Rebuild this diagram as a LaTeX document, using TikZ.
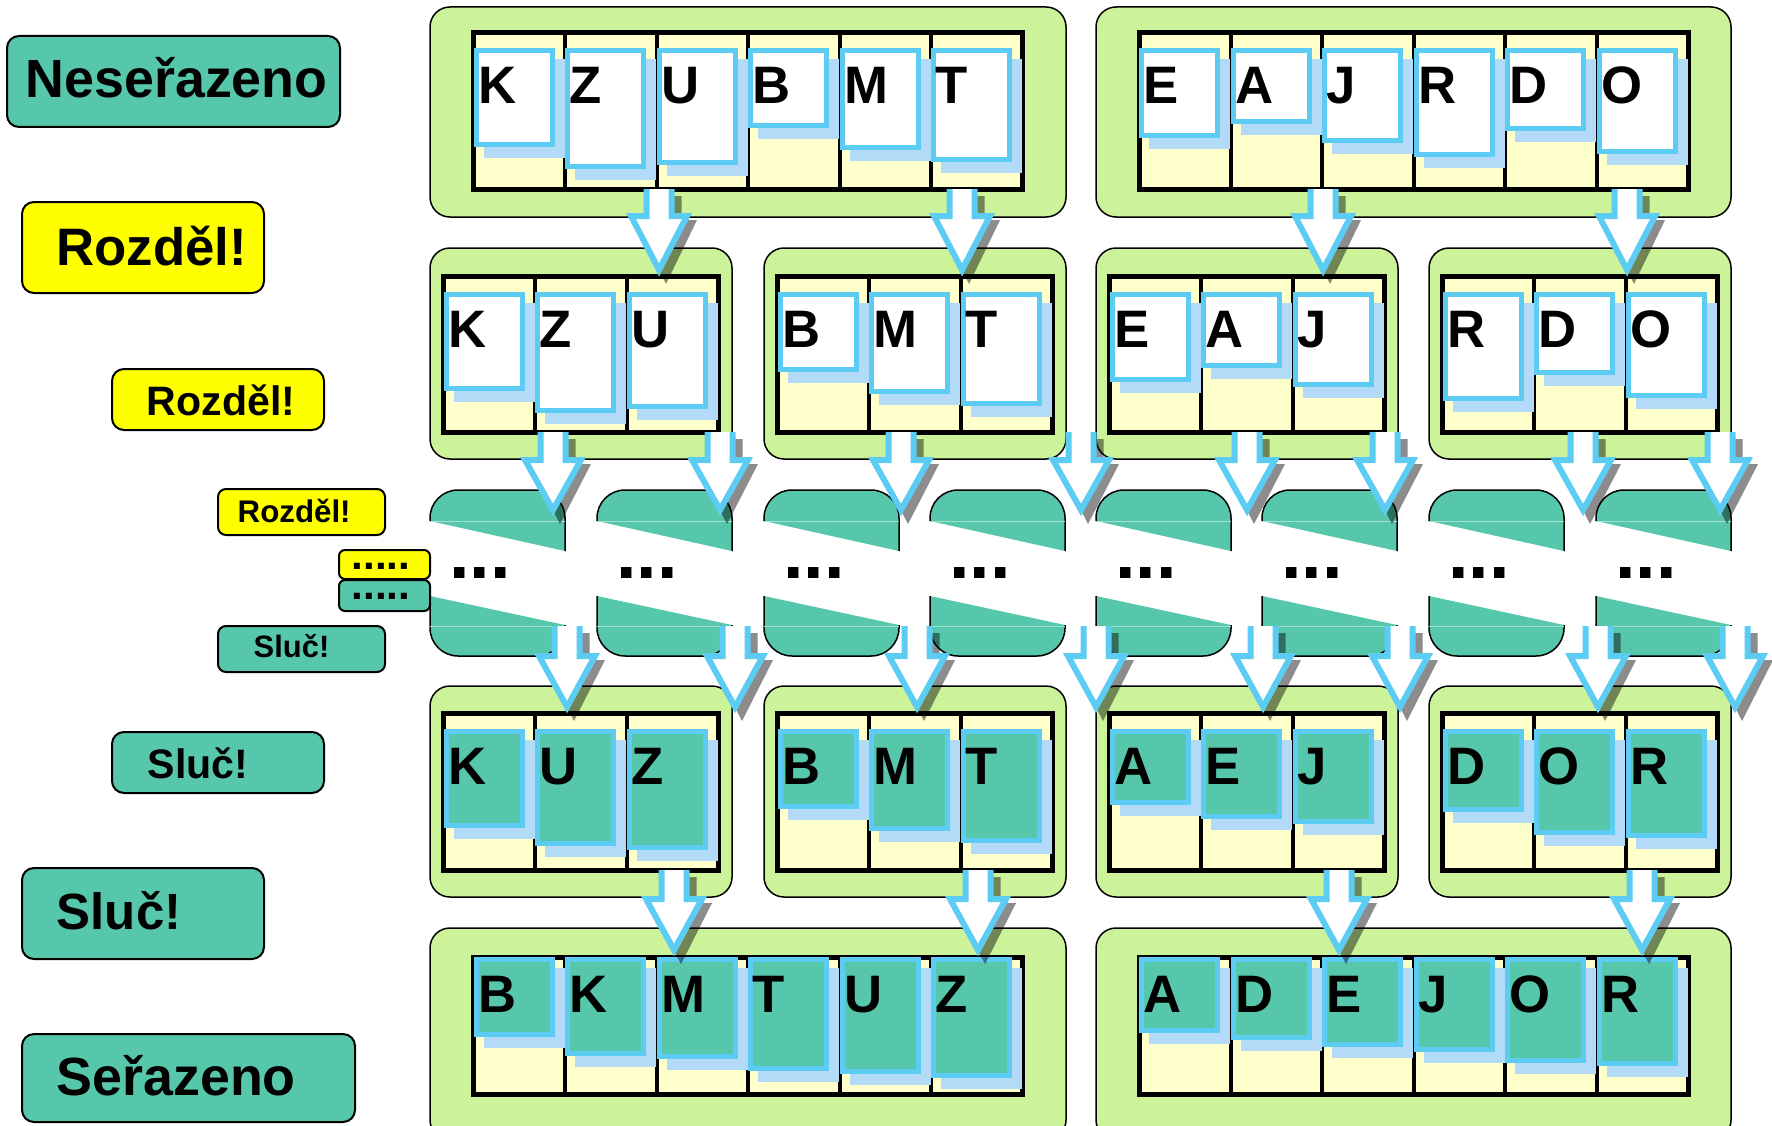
\documentclass[tikz,border=0pt]{standalone}
\usepackage{fontspec}
\setmainfont{Liberation Sans}
\definecolor{panelgreen}{RGB}{204,243,153}
\definecolor{cellyellow}{RGB}{255,255,204}
\definecolor{cardblue}{RGB}{93,204,242}
\definecolor{cardshade}{RGB}{179,219,248}
\definecolor{mint}{RGB}{87,199,171}
\definecolor{signyellow}{RGB}{255,255,0}

% row of slots: x, y, cells, height
\newcommand{\slots}[4]{%
  \fill[cellyellow] (#1,#2) rectangle ++(#3*91.5,#4);
  \pgfmathtruncatemacro\lastslot{#3-1}
  \foreach \k in {1,...,\lastslot} \draw[divider] (#1+\k*91.5,#2) -- ++(0,#4);
  \draw[slotedge] (#1,#2) rectangle ++(#3*91.5,#4);
}
% card: name, x, y, height, letter, fill
\newcommand{\card}[6]{%
  \fill[cardshade] (#2+10,#3+11) rectangle ++(81,#4);
  \draw[cardedge, fill=#6] (#2+2.5,#3+2.5) rectangle ++(76,#4-5);
  \node[letter] (#1) at (#2+4,#3+55) {#5};
}
\newcommand{\cardrow}[5]{%
  \foreach \c/\h [count=\i from 0] in {#5} {\card{#1\c}{#2+\i*91.5}{#3}{\h}{\c}{#4}}
}
% half shapes of the middle row: left x
\newcommand{\blob}[1]{%
  \fill[mint] (#1,521) -- (#1,518) arc[start angle=180,end angle=270,radius=28] -- (#1+107,490) arc[start angle=270,end angle=360,radius=28] -- (#1+135,551) -- cycle;
  \draw[blobedge] (#1,521) -- (#1,518) arc[start angle=180,end angle=270,radius=28] -- (#1+107,490) arc[start angle=270,end angle=360,radius=28] -- (#1+135,551);
  \draw[seam] (#1,521) -- (#1+135,521);
  \fill[mint] (#1,596) -- (#1+135,625) -- (#1+135,628) arc[start angle=0,end angle=90,radius=28] -- (#1+28,656) arc[start angle=90,end angle=180,radius=28] -- cycle;
  \draw[blobedge] (#1+135,625) -- (#1+135,628) arc[start angle=0,end angle=90,radius=28] -- (#1+28,656) arc[start angle=90,end angle=180,radius=28] -- (#1,596);
  \draw[seam] (#1,626) -- (#1+135,626);
}
% hollow arrow: x, shaft top, head base, tip
\newcommand{\flowarrow}[4]{%
  \fill[arrowshade] (#1-8.5,#2+7) -- (#1-8.5,#3+7) -- (#1-24,#3+7) -- (#1+7,#4+7) -- (#1+38,#3+7) -- (#1+22.5,#3+7) -- (#1+22.5,#2+7) -- cycle;
  \fill[white] (#1-12.5,#2) -- (#1-12.5,#3+3) -- (#1-28,#3+3) -- (#1,#4-7) -- (#1+28,#3+3) -- (#1+12.5,#3+3) -- (#1+12.5,#2) -- cycle;
  \draw[arrowedge] (#1-12.5,#2) -- (#1-12.5,#3+3) -- (#1-28,#3+3) -- (#1,#4-7) -- (#1+28,#3+3) -- (#1+12.5,#3+3) -- (#1+12.5,#2);
}

\begin{document}
\begin{tikzpicture}[x=0.1mm, y=-0.1mm,
  panel/.style={draw=black, line width=0.15mm, fill=panelgreen, rounded corners=2mm},
  slotedge/.style={draw=black, line width=0.5mm},
  divider/.style={black, line width=0.4mm},
  cardedge/.style={draw=cardblue, line width=0.5mm},
  letter/.style={anchor=base west, inner sep=0pt, font=\fontsize{15}{18}\selectfont\bfseries},
  blobedge/.style={draw=black, line width=0.15mm},
  seam/.style={draw=mint!55!white, line width=0.1mm},
  dots/.style={anchor=base west, inner sep=0pt, font=\fontsize{21}{25}\selectfont\bfseries},
  sign/.style={draw=black, line width=0.2mm, rounded corners=1.2mm},
  signtext/.style={anchor=base west, inner sep=0pt},
  arrowshade/.style={fill=black, opacity=0.45},
  arrowedge/.style={draw=cardblue, line width=0.6mm, line join=miter, line cap=butt}]
\useasboundingbox (0,0) rectangle (1772,1125);

% green panels
\draw[panel] (430,7) rectangle (1066,217);
\draw[panel] (1096,7) rectangle (1731,217);
\draw[panel] (430,248) rectangle (732,459);
\draw[panel] (764,248) rectangle (1066,459);
\draw[panel] (1096,248) rectangle (1398,459);
\draw[panel] (1429,248) rectangle (1731,459);
\draw[panel] (430,686) rectangle (732,897);
\draw[panel] (764,686) rectangle (1066,897);
\draw[panel] (1096,686) rectangle (1398,897);
\draw[panel] (1429,686) rectangle (1731,897);
\draw[panel] (430,928) rectangle (1066,1140);
\draw[panel] (1096,928) rectangle (1731,1140);

% slots
\slots{473.5}{33}{6}{156}
\slots{1139}{33}{6}{156}
\foreach \x in {443.75,777.75,1109.75,1442.75} {\slots{\x}{276}{3}{156}}
\foreach \x in {443.75,777.75,1109.75,1442.75} {\slots{\x}{713}{3}{157}}
\slots{473.5}{957}{6}{137}
\slots{1139}{957}{6}{137}

% cards
\cardrow{a}{473.5}{48}{white}{K/99,Z/121,U/117,B/80,M/102,T/114}
\cardrow{b}{1139}{48}{white}{E/90,A/76,J/95,R/109,D/83,O/106}
\cardrow{c}{443.75}{292}{white}{K/99,Z/121,U/117}
\cardrow{d}{777.75}{292}{white}{B/80,M/102,T/114}
\cardrow{e}{1109.75}{292}{white}{E/90,A/76,J/95}
\cardrow{f}{1442.75}{292}{white}{R/109,D/83,O/106}
\cardrow{g}{443.75}{729}{mint}{K/99,U/117,Z/121}
\cardrow{h}{777.75}{729}{mint}{B/80,M/102,T/114}
\cardrow{i}{1109.75}{729}{mint}{A/76,E/90,J/95}
\cardrow{j}{1442.75}{729}{mint}{D/83,O/106,R/109}
\cardrow{k}{473.5}{957}{mint}{B/80,K/99,M/102,T/114,U/117,Z/121}
\cardrow{l}{1139}{957}{mint}{A/76,D/83,E/90,J/95,O/106,R/109}

% middle row
\foreach \L in {430,597,764,930,1096,1262,1429,1596} {
  \blob{\L}
  \node[dots] (dots\L) at (\L+18.5,578) {...};
}

% signs on the left
\draw[sign, fill=mint] (7,36) rectangle (340,127);
\node[signtext, font=\fontsize{15.3}{18}\selectfont\bfseries] (unsorted) at (25,98) {Neseřazeno};
\draw[sign, fill=signyellow] (22,202) rectangle (264,293);
\node[signtext, font=\fontsize{15}{18}\selectfont\bfseries] (split1) at (56,265) {Rozděl!};
\draw[sign, fill=signyellow] (112,369) rectangle (324,430);
\node[signtext, font=\fontsize{11.7}{14}\selectfont\bfseries] (split2) at (146,415) {Rozděl!};
\draw[sign, rounded corners=0.8mm, fill=signyellow] (218,489) rectangle (385,535);
\node[signtext, font=\fontsize{8.9}{11}\selectfont\bfseries] (split3) at (237,522) {Rozděl!};
\draw[sign, rounded corners=0.6mm, fill=signyellow] (339,550) rectangle (430,579);
\node[signtext, font=\fontsize{12}{14}\selectfont\bfseries] (splitn) at (351,569) {.....};
\draw[sign, rounded corners=0.6mm, fill=mint] (339,580) rectangle (430,611);
\node[signtext, font=\fontsize{12}{14}\selectfont\bfseries] (mergen) at (351,599) {.....};
\draw[sign, rounded corners=0.8mm, fill=mint] (218,626) rectangle (385,672);
\node[signtext, font=\fontsize{8.8}{11}\selectfont\bfseries] (merge3) at (253,657) {Sluč!};
\draw[sign, fill=mint] (112,732) rectangle (324,793);
\node[signtext, font=\fontsize{11.7}{14}\selectfont\bfseries] (merge2) at (147,778) {Sluč!};
\draw[sign, fill=mint] (22,868) rectangle (264,959);
\node[signtext, font=\fontsize{14.5}{18}\selectfont\bfseries] (merge1) at (56,929) {Sluč!};
\draw[sign, fill=mint] (22,1034) rectangle (355,1122);
\node[signtext, font=\fontsize{15.3}{18}\selectfont\bfseries] (sorted) at (56,1095) {Seřazeno};

% arrows
\foreach \x in {659,962,1323,1627} {\flowarrow{\x}{189}{213}{277}}
\foreach \x in {553,720,901,1081,1247,1385,1583,1720} {\flowarrow{\x}{432}{457}{517}}
\foreach \x in {567,735,917,1096,1263,1400,1598,1735} {\flowarrow{\x}{626}{653}{714}}
\foreach \x in {674,978,1339,1642} {\flowarrow{\x}{870}{896}{957}}
\end{tikzpicture}
\end{document}
